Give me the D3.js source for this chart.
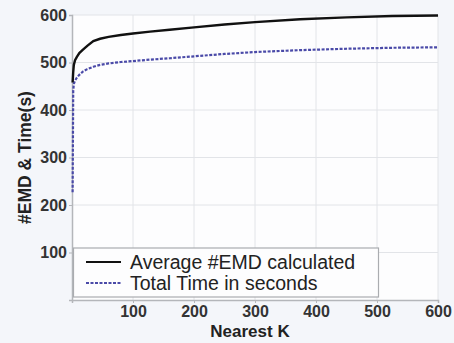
<!DOCTYPE html>
<html>
<head>
<meta charset="utf-8">
<script src="https://cdn.jsdelivr.net/npm/d3@7"></script>
<style>
  body { margin: 0; background: #f4f6fa; }
  svg { display: block; font-family: "Liberation Sans", Arial, sans-serif; }
</style>
</head>
<body>
<svg id="chart"></svg>
<script>
// values
const kValues   = [1, 2, 3, 5, 8, 12, 18, 25, 35, 46, 60, 80, 100, 128, 160, 200, 250, 300, 374, 450, 525, 600];
const emdValues = [458, 480, 495, 505, 512, 520, 527, 535, 545, 550, 554, 558, 561, 565, 569, 574, 580, 585, 591, 595, 598, 599];
const timeValues = [227, 440, 455, 462, 468, 474, 481, 486, 491, 495, 498, 501, 503, 506, 509, 513, 518, 522, 526, 529, 531, 532];
const xTicks = [100, 200, 300, 400, 500, 600];
const yTicks = [100, 200, 300, 400, 500, 600];
const seriesNames = ["Average #EMD calculated", "Total Time in seconds"];

const width = 454, height = 343;
const margin = {top: 15, right: 16, bottom: 43, left: 72};

const svg = d3.select('#chart')
  .attr('width', width)
  .attr('height', height);

const x = d3.scaleLinear().domain([0, 600]).range([margin.left, width - margin.right]);
const y = d3.scaleLinear().domain([0, 600]).range([height - margin.bottom, margin.top]);

// plot background
svg.append('rect')
  .attr('x', x(0)).attr('y', y(600))
  .attr('width', x(600) - x(0)).attr('height', y(0) - y(600))
  .attr('fill', '#fdfdfe');

// grid
svg.append('g').selectAll('line.vg')
  .data(xTicks).enter().append('line')
    .attr('x1', d => x(d)).attr('x2', d => x(d))
    .attr('y1', y(0)).attr('y2', y(600))
    .attr('stroke', '#e2e4e8').attr('stroke-width', 1);
svg.append('g').selectAll('line.hg')
  .data(yTicks).enter().append('line')
    .attr('x1', x(0)).attr('x2', x(600))
    .attr('y1', d => y(d)).attr('y2', d => y(d))
    .attr('stroke', '#e2e4e8').attr('stroke-width', 1);

// axes
const xAxis = svg.append('g')
  .attr('transform', `translate(0,${y(0)})`)
  .call(d3.axisBottom(x).tickValues(xTicks).tickSize(3).tickPadding(3));
const yAxis = svg.append('g')
  .attr('transform', `translate(${x(0)},0)`)
  .call(d3.axisLeft(y).tickValues(yTicks).tickSize(3).tickPadding(2));

[xAxis, yAxis].forEach(a => {
  a.select('.domain').attr('stroke', '#b4b6ba').attr('stroke-width', 1.5);
  a.selectAll('.tick line').attr('stroke', '#b4b6ba');
  a.selectAll('.tick text')
    .attr('fill', '#333')
    .style('font-size', '16px')
    .style('font-weight', 'bold');
});

// axis titles
svg.append('text')
  .attr('x', 250)
  .attr('y', height - 6)
  .attr('text-anchor', 'middle')
  .attr('fill', '#222')
  .style('font-size', '17px')
  .style('font-weight', 'bold')
  .text('Nearest K');

svg.append('text')
  .attr('transform', `translate(31,${(y(0) + y(600)) / 2}) rotate(-90)`)
  .attr('text-anchor', 'middle')
  .attr('fill', '#222')
  .style('font-size', '17.5px')
  .style('font-weight', 'bold')
  .text('#EMD & Time(s)');

// lines
const line = vals => d3.line()
  .x((d, i) => x(kValues[i]))
  .y(d => y(d))(vals);

svg.append('path')
  .attr('d', line(timeValues))
  .attr('fill', 'none')
  .attr('stroke', '#4a4aa8')
  .attr('stroke-width', 2.2)
  .attr('stroke-dasharray', '3,1.5');

svg.append('path')
  .attr('d', line(emdValues))
  .attr('fill', 'none')
  .attr('stroke', '#111')
  .attr('stroke-width', 2.4);

// legend
const lg = svg.append('g');
lg.append('rect')
  .attr('x', x(0) + 1.5).attr('y', 248)
  .attr('width', 305).attr('height', 49)
  .attr('fill', '#fdfdfe')
  .attr('stroke', '#aaacb0').attr('stroke-width', 1.2);

const legendStyles = [
  {stroke: '#111', dash: null},
  {stroke: '#4a4aa8', dash: '3,1.5'}
];
seriesNames.forEach((name, i) => {
  const ly = 262 + i * 21;
  lg.append('line')
    .attr('x1', 86).attr('x2', 121)
    .attr('y1', ly).attr('y2', ly)
    .attr('stroke', legendStyles[i].stroke)
    .attr('stroke-width', 2.2)
    .attr('stroke-dasharray', legendStyles[i].dash);
  lg.append('text')
    .attr('x', 130).attr('y', ly + 7)
    .attr('fill', '#222')
    .style('font-size', '19.5px')
    .text(name);
});
</script>
</body>
</html>
